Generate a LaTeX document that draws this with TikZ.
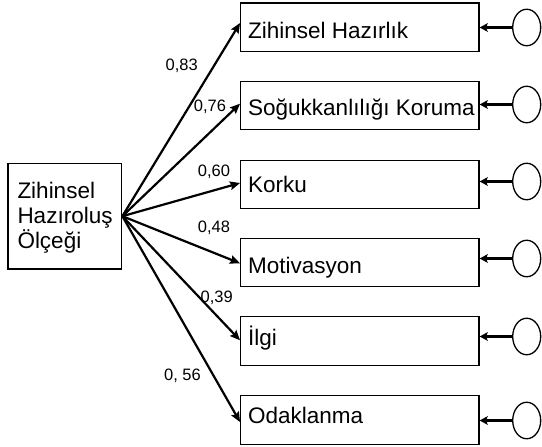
\documentclass[tikz,border=0pt]{standalone}
\usepackage{fontspec}
\setmainfont{Liberation Sans}
\usetikzlibrary{arrows.meta,shapes.geometric}
\begin{document}
\begin{tikzpicture}[x=1pt,y=-1pt,
  itembox/.style={draw=black,line width=1.3pt,minimum width=238.3pt,minimum height=48.5pt,inner sep=0pt},
  srcbox/.style={draw=black,line width=1.3pt,minimum width=113.7pt,minimum height=105.7pt,inner sep=0pt},
  boxtext/.style={anchor=base west,inner sep=0pt,font=\fontsize{22.5}{25}\selectfont},
  coef/.style={inner sep=0pt,font=\fontsize{16.5}{18}\selectfont},
  errc/.style={draw=black,line width=1.3pt,ellipse,minimum width=28pt,minimum height=36.5pt,inner sep=0pt},
  path/.style={line width=2.2pt,-{Stealth[length=10pt,width=8.5pt,inset=1.5pt]}},
  errarrow/.style={line width=2.8pt,-{Stealth[length=8pt,width=8.5pt,inset=1.5pt]}}
]
\useasboundingbox (0,0) rectangle (542,447);
% source box
\node[srcbox] (L) at (64.85,216.2) {};
\node[boxtext] (z1) at (17.3,198.3) {Zihinsel};
\node[boxtext] (z2) at (17.3,223.3) {Hazıroluş};
\node[boxtext] (z3) at (17.3,248.3) {Ölçeği};
% item boxes
\node[itembox] (b1) at (359.85,27.3) {};
\node[itembox] (b2) at (359.85,105.5) {};
\node[itembox] (b3) at (359.85,184.5) {};
\node[itembox] (b4) at (359.85,262.5) {};
\node[itembox] (b5) at (359.85,341) {};
\node[itembox] (b6) at (359.85,420) {};
\node[boxtext] (t1) at (248,38.3) {Zihinsel Hazırlık};
\node[boxtext] (t2) at (248,115.5) {Soğukkanlılığı Koruma};
\node[boxtext] (t3) at (248,192.3) {Korku};
\node[boxtext] (t4) at (248,273.3) {Motivasyon};
\node[boxtext] (t5) at (248,345.3) {İlgi};
\node[boxtext] (t6) at (248,423.7) {Odaklanma};
% error circles
\node[errc] (e1) at (526.7,27.5) {};
\node[errc] (e2) at (526.7,104.5) {};
\node[errc] (e3) at (526.7,181.5) {};
\node[errc] (e4) at (526.7,258.5) {};
\node[errc] (e5) at (526.7,336.5) {};
\node[errc] (e6) at (526.7,420.5) {};
% paths
\draw[path] (L.east) -- ([yshift=4.3pt]b1.west);
\draw[path] (L.east) -- ([yshift=1.8pt]b2.west);
\draw[path] (L.east) -- ([yshift=1.5pt]b3.west);
\draw[path] (L.east) -- ([yshift=-0.8pt]b4.west);
\draw[path] (L.east) -- ([yshift=0.7pt]b5.west);
\draw[path] (L.east) -- ([yshift=-2pt]b6.west);
% error arrows
\foreach \i in {1,...,6}{
  \draw[errarrow] (e\i.west) -- (e\i.west -| b\i.east);
}
% coefficients
\node[coef] (c1) at (181.7,66) {0,83};
\node[coef] (c2) at (210,106.7) {0,76};
\node[coef] (c3) at (214,172) {0,60};
\node[coef] (c4) at (214,228) {0,48};
\node[coef] (c5) at (216.7,297.5) {0,39};
\node[coef] (c6) at (182.5,376) {0, 56};
\end{tikzpicture}
\end{document}
